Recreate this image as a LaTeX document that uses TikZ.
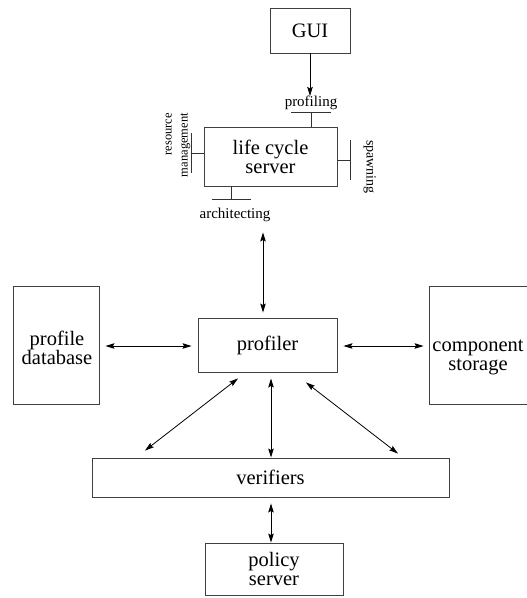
\documentclass[tikz,border=0pt]{standalone}
\usepackage{fontspec}
\setmainfont{Liberation Serif}
\newfontfamily\timesfont{Liberation Serif}
\usetikzlibrary{arrows.meta}
\newcommand\boxfont{\timesfont\fontsize{20.5}{19}\selectfont}
\newcommand\portfont{\timesfont\fontsize{15}{17}\selectfont}
\begin{document}
\begin{tikzpicture}[x=1pt,y=-1pt,
  box/.style={draw=black!75,line width=0.9pt,inner sep=0pt,align=center,font=\boxfont},
  onearrow/.style={-{Stealth[length=9pt,width=5.5pt,inset=1.5pt]},line width=0.8pt},
  twoarrow/.style={{Stealth[length=9pt,width=5.5pt,inset=1.5pt]}-{Stealth[length=9pt,width=5.5pt,inset=1.5pt]},line width=0.8pt},
  port/.style={draw=black!80,line width=0.8pt},
  portlabel/.style={inner sep=0pt,font=\portfont}]
\useasboundingbox (0,0) rectangle (527,598);
\clip (0,0) rectangle (527,598);

% boxes
\node[box,minimum width=80pt,minimum height=45pt] (gui) at (310,30.5) {GUI};
\node[box,minimum width=133pt,minimum height=59pt] (lcs) at (270.5,156.5) {life cycle\\server};
\node[box,minimum width=139pt,minimum height=54pt] (profiler) at (267.5,345) {profiler};
\node[box,minimum width=86pt,minimum height=118pt] (db) at (56,345) {};
\node[inner sep=0pt,align=center,font=\timesfont\fontsize{20.5}{18}\selectfont] (dbtext) at (57,348) {profile\\database};
\node[box,minimum width=101pt,minimum height=118pt] (comp) at (479.5,345) {};
\node[inner sep=0pt,align=center,font=\timesfont\fontsize{20.5}{19}\selectfont] (comptext) at (478,357) {component\\storage};
\node[box,minimum width=357pt,minimum height=39pt] (verifiers) at (270.5,477.5) {verifiers};
\node[box,minimum width=138pt,minimum height=52pt,font=\timesfont\fontsize{20.5}{18.5}\selectfont] (policy) at (274,569) {policy\\server};

% interface ports of the life cycle server
\draw[port] ([xshift=40.5pt]lcs.north) -- ++(0,-14) coordinate (pprof);
\draw[port] ([xshift=-20pt]pprof) -- ([xshift=20pt]pprof);
\draw[port] ([yshift=3.5pt]lcs.west) -- ++(-12,0) coordinate (pres);
\draw[port] ([yshift=20pt]pres) -- ([yshift=-20pt]pres);
\draw[port] ([yshift=-3.5pt]lcs.east) -- ++(13,0) coordinate (pspawn);
\draw[port] ([yshift=20pt]pspawn) -- ([yshift=-20pt]pspawn);
\draw[port] ([xshift=-39.5pt]lcs.south) -- ++(0,13) coordinate (parch);
\draw[port] ([xshift=-19.5pt]parch) -- ([xshift=19.5pt]parch);

\node[portlabel,anchor=base] (proflbl) at (311,106.7) {profiling};
\node[portlabel,anchor=base] (archlbl) at (235,218) {architecting};
\node[inner sep=0pt,rotate=90,anchor=east,align=right,font=\timesfont\fontsize{12.5}{16}\selectfont] (reslbl) at (178,113) {resource\\management};
\node[inner sep=0pt,rotate=-90,anchor=base west,font=\timesfont\fontsize{14}{16}\selectfont] (spawnlbl) at (366.5,140) {spawning};

% connectors
\draw[onearrow] (gui.south) -- (gui.south |- proflbl.north);
\draw[twoarrow,shorten <=46pt,shorten >=5pt] ([xshift=-7.5pt]lcs.south) -- ([xshift=-4.5pt]profiler.north);
\draw[twoarrow,shorten <=6pt,shorten >=6pt] ([yshift=-1pt]db.east) -- ([yshift=-1pt]profiler.west);
\draw[twoarrow,shorten <=6pt,shorten >=5pt] ([yshift=-1pt]profiler.east) -- ([yshift=-1pt]comp.west);
\draw[twoarrow] ([shift={(-29.5,6)}]profiler.south) -- ([shift={(-125.5,-7)}]verifiers.north);
\draw[twoarrow] ([shift={(3.5,6)}]profiler.south) -- ([shift={(0.5,0)}]verifiers.north);
\draw[twoarrow] ([shift={(38.5,10)}]profiler.south) -- ([shift={(127.5,-4)}]verifiers.north);
\draw[twoarrow] ([shift={(0.5,6)}]verifiers.south) -- ([shift={(-3,0)}]policy.north);
\end{tikzpicture}
\end{document}
